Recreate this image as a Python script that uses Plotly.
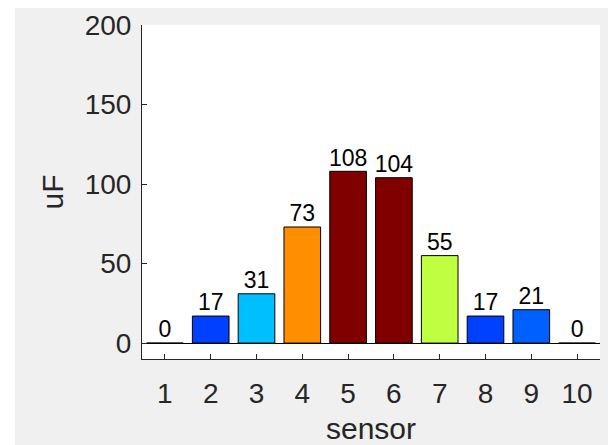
import plotly.graph_objects as go

sensors = [1, 2, 3, 4, 5, 6, 7, 8, 9, 10]
values = [0, 17, 31, 73, 108, 104, 55, 17, 21, 0]
bar_colors = ["#00008f", "#0040ff", "#00bfff", "#ff8f00", "#800000",
              "#800000", "#bfff40", "#0040ff", "#0060ff", "#00008f"]
y_ticks = [0, 50, 100, 150, 200]

FONT = "Liberation Sans, Arial, sans-serif"
AX = "#262626"

fig = go.Figure()
fig.add_trace(go.Bar(
    x=sensors, y=values, width=0.8,
    marker=dict(color=bar_colors, line=dict(color="black", width=1)),
    hoverinfo="skip", showlegend=False,
))
fig.add_trace(go.Scatter(
    x=sensors, y=values, mode="text",
    text=[str(v) for v in values], textposition="top center",
    textfont=dict(family=FONT, size=23, color="black"),
    showlegend=False, cliponaxis=False, hoverinfo="skip",
))

# the page adds an 8px white margin around the figure
fig.update_layout(
    width=608, height=437,
    margin=dict(l=134, r=16, t=17, b=86, pad=0, autoexpand=False),
    paper_bgcolor="#f0f0f0", plot_bgcolor="white",
    font=dict(family=FONT, color=AX),
    shapes=[
        dict(type="rect", xref="paper", yref="paper", x0=-0.35, x1=-0.27729,
             y0=-0.3, y1=1.1, fillcolor="white", line=dict(width=0), layer="above"),
    ],
)
fig.update_xaxes(
    range=[0.5, 10.5], tickvals=sensors, ticktext=[str(s) for s in sensors],
    ticks="inside", ticklen=5, tickcolor=AX, showline=True, linecolor=AX, linewidth=1,
    showgrid=False, zeroline=False, tickfont=dict(size=28, color=AX),
    ticklabelstandoff=9, automargin=False,
    title=dict(text="sensor", font=dict(size=30, color=AX), standoff=12),
)
fig.update_yaxes(
    range=[-10, 200], tickvals=y_ticks,
    ticks="inside", ticklen=5, tickcolor=AX, showline=True, linecolor=AX, linewidth=1,
    showgrid=False, zeroline=True, zerolinecolor="black", zerolinewidth=1,
    tickfont=dict(size=28, color=AX), ticklabelstandoff=4, automargin=False,
    title=dict(text="uF", font=dict(size=30, color=AX), standoff=12),
)

fig.write_html("out.html")
